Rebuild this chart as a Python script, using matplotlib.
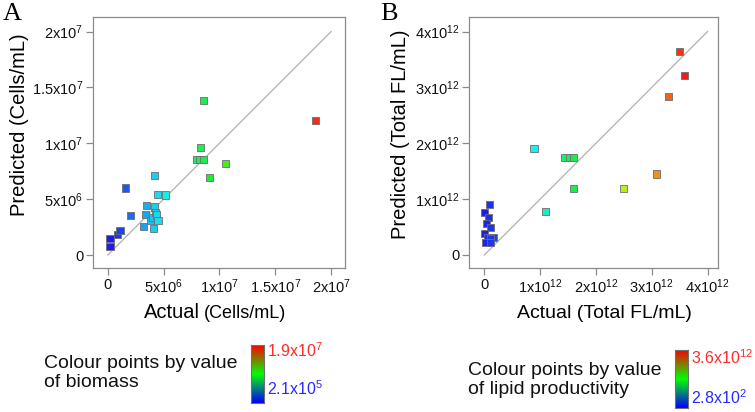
import numpy as np
import matplotlib
matplotlib.use('Agg')
import matplotlib.pyplot as plt
from matplotlib.colors import LinearSegmentedColormap, hsv_to_rgb

plt.rcParams['font.family'] = ['Liberation Sans', 'DejaVu Sans']
plt.rcParams['mathtext.fontset'] = 'custom'
plt.rcParams['mathtext.rm'] = 'Liberation Sans'

# panel A: biomass (cells/mL)
a_actual = [2e5, 2e5, 8.7e5, 1.1e6, 1.55e6, 2.0e6, 3.22e6, 3.34e6, 3.43e6, 3.82e6,
            4.0e6, 4.12e6, 4.18e6, 4.2e6, 4.27e6, 4.39e6, 4.48e6, 4.5e6, 5.2e6,
            7.97e6, 8.18e6, 8.54e6, 8.3e6, 8.54e6, 9.13e6, 1.057e7, 1.86e7]
a_pred = [7.5e5, 1.5e6, 1.85e6, 2.18e6, 6.0e6, 3.5e6, 2.54e6, 3.64e6, 4.45e6, 3.13e6,
          3.37e6, 2.36e6, 7.1e6, 4.3e6, 3.79e6, 3.58e6, 5.43e6, 3.1e6, 5.37e6,
          8.57e6, 8.57e6, 8.57e6, 9.61e6, 1.382e7, 6.96e6, 8.18e6, 1.2e7]
a_ticks = [0, 5e6, 1e7, 1.5e7, 2e7]
a_labels = ['0', r'$\mathregular{5x10^{6}}$', r'$\mathregular{1x10^{7}}$',
            r'$\mathregular{1.5x10^{7}}$', r'$\mathregular{2x10^{7}}$']
a_range = (2.1e5, 1.9e7)

# panel B: lipid productivity (total FL/mL)
b_actual = [0.10e12, 0.0, 0.08e12, 0.04e12, 0.11e12, 0.01e12, 0.05e12, 0.16e12, 0.11e12,
            0.03e12, 0.11e12, 0.89e12, 1.09e12, 1.44e12, 1.52e12, 1.60e12, 1.60e12,
            2.49e12, 3.09e12, 3.30e12, 3.49e12, 3.59e12]
b_pred = [0.91e12, 0.76e12, 0.67e12, 0.57e12, 0.50e12, 0.38e12, 0.32e12, 0.32e12, 0.30e12,
          0.23e12, 0.23e12, 1.91e12, 0.78e12, 1.75e12, 1.75e12, 1.75e12, 1.19e12,
          1.19e12, 1.45e12, 2.84e12, 3.64e12, 3.22e12]
b_ticks = [0, 1e12, 2e12, 3e12, 4e12]
b_labels = ['0', r'$\mathregular{1x10^{12}}$', r'$\mathregular{2x10^{12}}$',
            r'$\mathregular{3x10^{12}}$', r'$\mathregular{4x10^{12}}$']
b_range = (2.8e2, 3.6e12)

grey = '#8c8c8c'
bar_cmap = LinearSegmentedColormap.from_list('bgr', ['#0000ff', '#00ff00', '#ff0000'])


def point_colours(vals, rng):
    f = np.clip((np.array(vals) - rng[0]) / (rng[1] - rng[0]), 0, 1)
    hsv = np.stack([(1 - f) * 0.667, np.full_like(f, 0.88), np.full_like(f, 0.93)], axis=1)
    return hsv_to_rgb(hsv)


def panel(ax, x, y, ticks, labels, rng, lim):
    ax.plot([0, ticks[-1]], [0, ticks[-1]], color='#b0b0b0', lw=0.9, zorder=1)
    ax.scatter(x, y, marker='s', s=26, c=point_colours(x, rng),
               edgecolors='#6e6e6e', linewidths=0.6, zorder=3)
    ax.set_xlim(lim[0], lim[1])
    ax.set_ylim(lim[2], lim[3])
    ax.set_xticks(ticks)
    ax.set_xticklabels(labels)
    ax.set_yticks(ticks)
    ax.set_yticklabels(labels)
    for s in ax.spines.values():
        s.set_color(grey)
        s.set_linewidth(0.9)
    ax.tick_params(direction='out', length=5, width=0.9, color=grey,
                   labelsize=10.5, pad=2, labelcolor='#111111')


def colourbar(rect):
    cax = fig.add_axes(rect)
    cax.imshow(np.linspace(1, 0, 100).reshape(-1, 1), cmap=bar_cmap, aspect='auto')
    cax.set_xticks([])
    cax.set_yticks([])
    for s in cax.spines.values():
        s.set_color('#707070')
        s.set_linewidth(0.8)


fig = plt.figure(figsize=(7.55, 4.12), dpi=100)

axA = fig.add_axes([93 / 755, 144 / 412, 252 / 755, 251 / 412])
panel(axA, a_actual, a_pred, a_ticks, a_labels, a_range, (-1.32e6, 2.124e7, -1.16e6, 2.13e7))
axB = fig.add_axes([469 / 755, 144 / 412, 249 / 755, 251 / 412])
panel(axB, b_actual, b_pred, b_ticks, b_labels, b_range, (-0.274e12, 4.186e12, -0.233e12, 4.26e12))

# panel letters
fig.text(3 / 755, 1 - 14 / 412, 'A', family='Liberation Serif', fontsize=19, va='center')
fig.text(380 / 755, 1 - 14 / 412, 'B', family='Liberation Serif', fontsize=19, va='center')

# axis labels
fig.text(20 / 755, 1 - 125 / 412, 'Predicted (Cells/mL)', rotation=90, fontsize=14.5,
         ha='center', va='center')
fig.text(400 / 755, 1 - 134 / 412, 'Predicted (Total FL/mL)', rotation=90, fontsize=14.5,
         ha='center', va='center')
fig.text(200 / 755, 1 - 313 / 412, 'Actual', fontsize=14.5, ha='right', va='center')
fig.text(204 / 755, 1 - 313 / 412, '(Cells/mL)', fontsize=13, ha='left', va='center')
fig.text(604 / 755, 1 - 313 / 412, 'Actual (Total FL/mL)', fontsize=14, ha='center', va='center')

# colour legends
fig.text(44 / 755, 1 - 373 / 412, 'Colour points by value\nof biomass', fontsize=14,
         ha='left', va='center', color='#111111')
fig.text(468 / 755, 1 - 380 / 412, 'Colour points by value\nof lipid productivity', fontsize=14,
         ha='left', va='center', color='#111111')

colourbar([251 / 755, 9 / 412, 13 / 755, 58 / 412])
colourbar([675 / 755, 4 / 412, 13 / 755, 58 / 412])

fig.text(267 / 755, 1 - 351 / 412, r'$\mathregular{1.9x10^{7}}$', fontsize=11.5,
         color='#ff2a2a', ha='left', va='center')
fig.text(267 / 755, 1 - 389 / 412, r'$\mathregular{2.1x10^{5}}$', fontsize=11.5,
         color='#2a2aff', ha='left', va='center')
fig.text(691 / 755, 1 - 358 / 412, r'$\mathregular{3.6x10^{12}}$', fontsize=11.5,
         color='#ff2a2a', ha='left', va='center')
fig.text(691 / 755, 1 - 398 / 412, r'$\mathregular{2.8x10^{2}}$', fontsize=11.5,
         color='#2a2aff', ha='left', va='center')

plt.savefig('out.png', dpi=100)
